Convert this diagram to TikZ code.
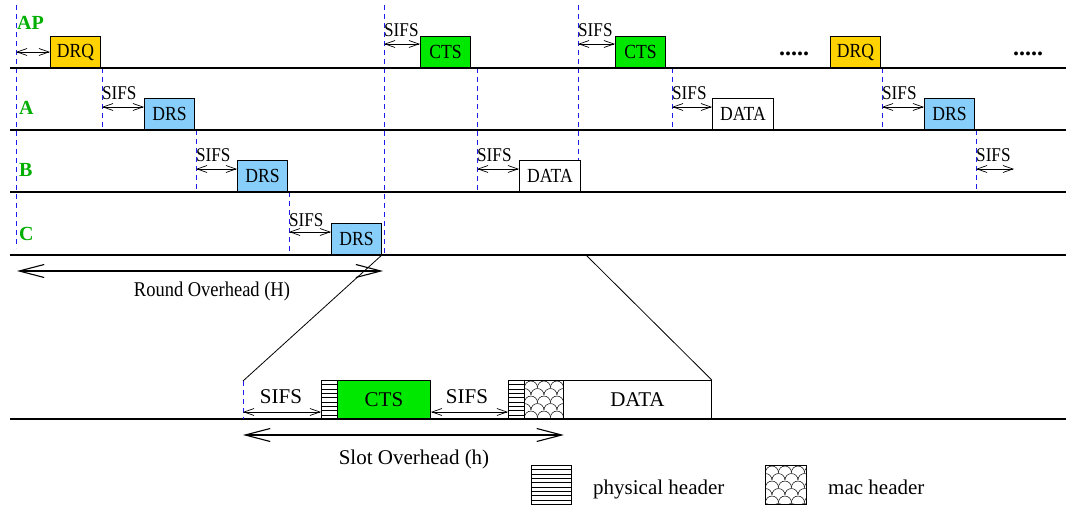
\documentclass[tikz,border=0pt]{standalone}
\usepackage{fontspec}
\setmainfont{Liberation Serif}
\newfontfamily\narrowserif[FakeStretch=0.88]{Liberation Serif}
\usetikzlibrary{arrows.meta,calc}

\definecolor{drqyellow}{RGB}{255,210,0}
\definecolor{ctsgreen}{RGB}{0,232,0}
\definecolor{drsblue}{RGB}{135,206,250}
\definecolor{stagreen}{RGB}{0,175,0}
\definecolor{guideblue}{RGB}{30,30,235}

\tikzset{
  frame/.style={draw=black, line width=0.9pt, inner sep=0pt, anchor=south west,
    minimum height=31pt, font=\narrowserif\fontsize{20}{22}\selectfont},
  drq/.style={frame, fill=drqyellow, minimum width=50pt},
  cts/.style={frame, fill=ctsgreen, minimum width=50pt},
  drs/.style={frame, fill=drsblue, minimum width=50pt},
  datab/.style={frame, fill=white, minimum width=61pt},
  slotbox/.style={draw=black, line width=0.9pt, inner sep=0pt, anchor=south west,
    minimum height=38pt, font=\fontsize{21}{24}\selectfont},
  hatchfill/.style={path picture={
      \foreach \k in {1,...,9}{
        \draw[line width=0.8pt]
          ([yshift=-\k*4.3pt]path picture bounding box.north west) --
          ([yshift=-\k*4.3pt]path picture bounding box.north east);}}},
  scalefill/.style={path picture={
      \foreach \r in {0,...,5}{
        \pgfmathsetmacro{\off}{mod(\r,2)*6.5}
        \foreach \c in {-1,...,3}{
          \draw[line width=0.5pt]
            ([xshift=\c*13pt+\off pt, yshift=-7pt-\r*7.5pt]path picture bounding box.north west)
            arc[start angle=180, end angle=0, radius=6.5pt];}}}},
  axis/.style={line width=1.1pt},
  guide/.style={draw=guideblue, line width=0.9pt, dash pattern=on 5pt off 4pt},
  sifs/.style={line width=0.7pt,
    {Straight Barb[length=10pt,width=7pt]}-{Straight Barb[length=10pt,width=7pt]}},
  sifslbl/.style={inner sep=0pt, anchor=base west, font=\narrowserif\fontsize{19.5}{22}\selectfont},
  station/.style={text=stagreen, inner sep=0pt, anchor=base west,
    font=\fontsize{20}{22}\selectfont\bfseries},
  span/.style={line width=1.1pt,
    {Straight Barb[length=25pt,width=13pt]}-{Straight Barb[length=25pt,width=13pt]}},
  biglbl/.style={inner sep=0pt, anchor=base, font=\fontsize{21}{24}\selectfont},
  midlbl/.style={inner sep=0pt, anchor=base, font=\narrowserif\fontsize{21}{24}\selectfont},
  dotsl/.style={inner sep=0pt, anchor=base west, font=\fontsize{24}{26}\selectfont\bfseries},
}

\begin{document}
\begin{tikzpicture}[x=1pt, y=-1pt]
\useasboundingbox[fill=white] (0,0) rectangle (1066,508);

% ---- time guides ----
\draw[guide] (16,5) -- (16,248);
\draw[guide] (102,68) -- (102,130);
\draw[guide] (196,130) -- (196,192);
\draw[guide] (289,192) -- (289,255);
\draw[guide] (384,5) -- (384,255);
\draw[guide] (477,68) -- (477,192);
\draw[guide] (578,5) -- (578,161);
\draw[guide] (672,68) -- (672,130);
\draw[guide] (882,68) -- (882,130);
\draw[guide] (976,130) -- (976,192);

% ---- station axes ----
\foreach \yy in {68,130,192,255}{\draw[axis] (10,\yy) -- (1066,\yy);}

% ---- station names ----
\node[station] (sAP) at (17,30) {AP};
\node[station] (sA)  at (19,115) {A};
\node[station] (sB)  at (19,177) {B};
\node[station] (sC)  at (19,240) {C};

% ---- frames ----
\node[drq] (drq1) at (50,68) {DRQ};
\node[cts] (cts1) at (420,68) {CTS};
\node[cts] (cts2) at (615,68) {CTS};
\node[drq] (drq2) at (830,68) {DRQ};
\node[drs] (drsA1) at (144,130) {DRS};
\node[datab] (dataA) at (712,130) {DATA};
\node[drs] (drsA2) at (924,130) {DRS};
\node[drs] (drsB) at (237,192) {DRS};
\node[datab] (dataB) at (519,192) {DATA};
\node[drs] (drsC) at (331,255) {DRS};

\node[dotsl] (dots1) at (779,56) {.....};
\node[dotsl] (dots2) at (1013,56) {.....};

% ---- SIFS gaps ----
\draw[sifs] (16,52) -- (drq1.west |- 0,52);
\draw[sifs] (384,44) -- (cts1.west |- 0,44);
\node[sifslbl] (l1) at (384,37) {SIFS};
\draw[sifs] (578,44) -- (cts2.west |- 0,44);
\node[sifslbl] (l2) at (578,37) {SIFS};

\draw[sifs] (102,107) -- (drsA1.west |- 0,107);
\node[sifslbl] (l3) at (102,100) {SIFS};
\draw[sifs] (672,107) -- (dataA.west |- 0,107);
\node[sifslbl] (l4) at (672,100) {SIFS};
\draw[sifs] (882,107) -- (drsA2.west |- 0,107);
\node[sifslbl] (l5) at (882,100) {SIFS};

\draw[sifs] (196,169) -- (drsB.west |- 0,169);
\node[sifslbl] (l6) at (196,162) {SIFS};
\draw[sifs] (477,169) -- (dataB.west |- 0,169);
\node[sifslbl] (l7) at (477,162) {SIFS};
\coordinate (bEnd) at (1014,169);
\draw[sifs] (976,169) -- (bEnd);
\node[sifslbl] (l8) at (976,162) {SIFS};

\draw[sifs] (289,232) -- (drsC.west |- 0,232);
\node[sifslbl] (l9) at (289,226) {SIFS};

% ---- round overhead ----
\draw[span] (17,271) -- (383,271);
\node[midlbl] (roundlbl) at (212,296) {Round Overhead (H)};

% ---- expanded slot ----
\draw[axis] (10,419) -- (1066,419);
\node[slotbox, hatchfill, minimum width=16pt] (ph1) at (321,419) {};
\node[slotbox, fill=ctsgreen, minimum width=93pt] (cts3) at (337,419) {CTS};
\node[slotbox, hatchfill, minimum width=16pt] (ph2) at (508,419) {};
\node[slotbox, scalefill, minimum width=39pt] (mac1) at (524,419) {};
\node[slotbox, fill=white, minimum width=148pt] (data3) at (563,419) {DATA};

\coordinate (zl) at (243,381);
\coordinate (zr) at (586,255);
\draw[line width=0.8pt] (drsC.south east) -- (zl);
\draw[line width=0.8pt] (zr) -- (data3.north east);
\draw[guide] (zl) -- (243,419);

\draw[sifs] (243,412) -- (ph1.west |- 0,412);
\node[biglbl] (s1) at (281,403) {SIFS};
\draw[sifs] (cts3.east |- 0,412) -- (ph2.west |- 0,412);
\node[biglbl] (s2) at (467,403) {SIFS};

\draw[span] (243,435) -- (mac1.east |- 0,435);
\node[biglbl] (slotlbl) at (414,464) {Slot Overhead (h)};

% ---- legend ----
\node[slotbox, hatchfill, minimum width=40pt, minimum height=39pt] (legph) at (531,505) {};
\node[biglbl, anchor=base west] (legphtxt) at (593,494) {physical header};
\node[slotbox, scalefill, minimum width=41pt, minimum height=39pt] (legmac) at (765,505) {};
\node[biglbl, anchor=base west] (legmactxt) at (828,494) {mac header};
\end{tikzpicture}
\end{document}
